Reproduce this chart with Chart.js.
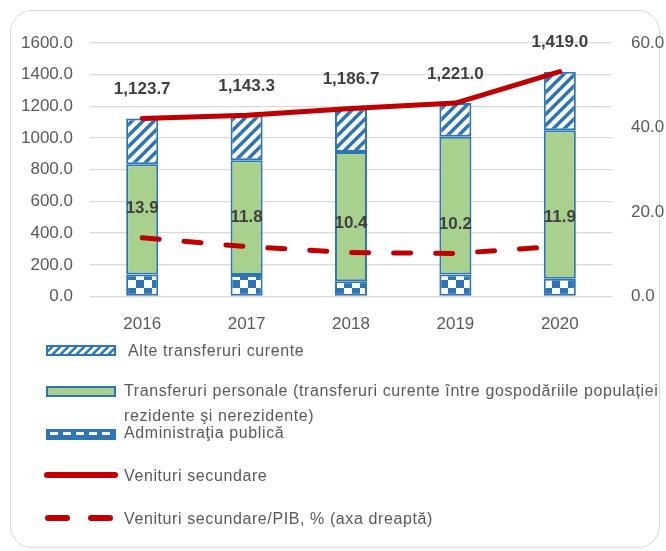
<!DOCTYPE html>
<html><head><meta charset="utf-8">
<script src="https://cdn.jsdelivr.net/npm/chart.js@4.4.1/dist/chart.umd.min.js"></script>
<style>
html,body{margin:0;padding:0;background:#fff;}
#wrap{position:relative;width:666px;height:551px;overflow:hidden;font-family:"Liberation Sans",Arial,sans-serif;}
#frame{position:absolute;left:10px;top:10px;width:650px;height:538px;border:1.5px solid #d9d9d9;border-radius:22px;box-sizing:border-box;}
#c{position:absolute;left:0;top:0;}
.lg{position:absolute;color:#595959;font-size:16px;letter-spacing:0.6px;white-space:nowrap;line-height:25px;}
.sw{position:absolute;}
</style></head><body>
<div id="wrap">
<div id="frame"></div>
<canvas id="c" width="666" height="551"></canvas>
<canvas class="sw" id="sw0" width="70" height="11" style="left:46px;top:345px"></canvas>
<div class="lg" id="lg0" style="left:128px;top:338px"></div>
<canvas class="sw" id="sw1" width="70" height="11" style="left:46px;top:386px"></canvas>
<div class="lg" id="lg1" style="left:124px;top:378px"></div>
<canvas class="sw" id="sw2" width="70" height="11" style="left:46px;top:429px"></canvas>
<div class="lg" id="lg2" style="left:124px;top:420px"></div>
<canvas class="sw" id="sw3" width="76" height="12" style="left:43px;top:469px"></canvas>
<div class="lg" id="lg3" style="left:124px;top:463px"></div>
<canvas class="sw" id="sw4" width="76" height="12" style="left:43px;top:512px"></canvas>
<div class="lg" id="lg4" style="left:124px;top:506px"></div>
</div>
<script>
// ---- data ----
const years = ['2016', '2017', '2018', '2019', '2020'];
const administratiaPublica = [139, 135, 97, 139, 112];
const transferuriPersonale = [695, 725, 815, 870, 937];
const alteTransferuri = [290, 283, 275, 212, 370];
const venituriSecundare = [1123.7, 1143.3, 1186.7, 1221.0, 1419.0];
const venituriPIB = [13.9, 11.8, 10.4, 10.2, 11.9];
const legendLabels = [
  'Alte transferuri curente',
  'Transferuri personale (transferuri curente între gospodăriile populației<br>rezidente şi nerezidente)',
  'Administraţia publică',
  'Venituri secundare',
  'Venituri secundare/PIB, % (axa dreaptă)'
];

const FONT = '"Liberation Sans", Arial, sans-serif';
const BLUE = '#2E75B6';
const GREEN = '#A9D18E';
const RED = '#C00000';
const TICK = '#595959';

function stripePattern(ctx, s, lw) {
  const c = document.createElement('canvas'); c.width = s; c.height = s;
  const g = c.getContext('2d');
  g.fillStyle = '#fff'; g.fillRect(0, 0, s, s);
  g.strokeStyle = BLUE; g.lineWidth = lw;
  g.beginPath();
  g.moveTo(-2, s + 2); g.lineTo(s + 2, -2);
  g.moveTo(-2, 2); g.lineTo(2, -2);
  g.moveTo(s - 2, s + 2); g.lineTo(s + 2, s - 2);
  g.stroke();
  return ctx.createPattern(c, 'repeat');
}
function checkerPattern(ctx, q) {
  const c = document.createElement('canvas'); c.width = 2 * q; c.height = 2 * q;
  const g = c.getContext('2d');
  g.fillStyle = '#fff'; g.fillRect(0, 0, 2 * q, 2 * q);
  g.fillStyle = BLUE; g.fillRect(0, 0, q, q); g.fillRect(q, q, q, q);
  return ctx.createPattern(c, 'repeat');
}
function fmtThousands(v) {
  const s = v.toFixed(1); const [i, d] = s.split('.');
  return i.replace(/\B(?=(\d{3})+(?!\d))/g, ',') + '.' + d;
}

const canvas = document.getElementById('c');
const ctx = canvas.getContext('2d');
const stripes = stripePattern(ctx, 11, 3.5);
const checks = checkerPattern(ctx, 8);

const valueLabels = {
  id: 'valueLabels',
  afterDatasetsDraw(chart) {
    const c = chart.ctx;
    c.save();
    c.font = 'bold 17px ' + FONT;
    c.fillStyle = '#404040';
    c.textAlign = 'center';
    c.textBaseline = 'middle';
    [[0, fmtThousands], [1, v => v.toFixed(1)]].forEach(([i, f]) => {
      const meta = chart.getDatasetMeta(i);
      meta.data.forEach((pt, j) => {
        c.fillText(f(chart.data.datasets[i].data[j]), pt.x, pt.y - 29);
      });
    });
    c.restore();
  }
};

const barCommon = { borderColor: BLUE, borderWidth: 2, borderSkipped: false, categoryPercentage: 1, barPercentage: 0.307, yAxisID: 'y', order: 1 };

new Chart(ctx, {
  type: 'bar',
  data: {
    labels: years,
    datasets: [
      { type: 'line', label: legendLabels[3], data: venituriSecundare, yAxisID: 'yTot', borderColor: RED, borderWidth: 5, pointRadius: 0, tension: 0, borderCapStyle: 'round', borderJoinStyle: 'round', order: 0 },
      { type: 'line', label: legendLabels[4], data: venituriPIB, yAxisID: 'y1', borderColor: RED, borderWidth: 5, borderDash: [17, 25], borderCapStyle: 'round', pointRadius: 0, tension: 0, order: 0 },
      Object.assign({ label: legendLabels[2], data: administratiaPublica, backgroundColor: checks }, barCommon),
      Object.assign({ label: legendLabels[1], data: transferuriPersonale, backgroundColor: GREEN }, barCommon),
      Object.assign({ label: legendLabels[0], data: alteTransferuri, backgroundColor: stripes }, barCommon)
    ]
  },
  options: {
    responsive: false,
    animation: false,
    layout: { padding: { top: 43, bottom: 211, left: 0, right: 0 } },
    plugins: { legend: { display: false }, tooltip: { enabled: false } },
    scales: {
      x: {
        stacked: true,
        grid: { display: false },
        border: { display: false },
        ticks: { color: TICK, font: { size: 17, family: FONT }, padding: 10 },
        afterFit(s) { s.height = 43.5; }
      },
      y: {
        stacked: true, min: 0, max: 1600,
        ticks: { stepSize: 200, callback: v => v.toFixed(1), color: TICK, font: { size: 17, family: FONT }, padding: 17 },
        grid: { color: '#D9D9D9', lineWidth: 1.3, drawTicks: false },
        border: { display: false },
        afterFit(s) { s.width = 90; }
      },
      yTot: { display: false, min: 0, max: 1600, stacked: false },
      y1: {
        position: 'right', min: 0, max: 60, stacked: false,
        ticks: { stepSize: 20, callback: v => v.toFixed(1), color: TICK, font: { size: 17, family: FONT }, padding: 19 },
        grid: { display: false, drawTicks: false },
        border: { display: false },
        afterFit(s) { s.width = 54; }
      }
    }
  },
  plugins: [valueLabels]
});

// ---- HTML legend ----
legendLabels.forEach((t, i) => { document.getElementById('lg' + i).innerHTML = t; });
(function () {
  let g = document.getElementById('sw0').getContext('2d');
  g.fillStyle = stripePattern(g, 8, 2.5); g.fillRect(0, 0, 70, 11);
  g.strokeStyle = BLUE; g.lineWidth = 2; g.strokeRect(1, 1, 68, 9);
  g = document.getElementById('sw1').getContext('2d');
  g.fillStyle = GREEN; g.fillRect(0, 0, 70, 11);
  g.strokeStyle = BLUE; g.lineWidth = 2; g.strokeRect(1, 1, 68, 9);
  g = document.getElementById('sw2').getContext('2d');
  g.fillStyle = BLUE; g.fillRect(0, 0, 70, 11);
  g.fillStyle = '#fff';
  for (let x = 4; x < 66; x += 13) g.fillRect(x, 3, 8, 3);
  g.strokeStyle = BLUE; g.lineWidth = 2; g.strokeRect(1, 1, 68, 9);
  g = document.getElementById('sw3').getContext('2d');
  g.strokeStyle = RED; g.lineWidth = 6; g.lineCap = 'round';
  g.beginPath(); g.moveTo(4, 6); g.lineTo(72, 6); g.stroke();
  g = document.getElementById('sw4').getContext('2d');
  g.strokeStyle = RED; g.lineWidth = 6; g.lineCap = 'round';
  g.beginPath(); g.moveTo(5, 6); g.lineTo(24, 6); g.moveTo(48, 6); g.lineTo(67, 6); g.stroke();
})();
</script>
</body></html>
